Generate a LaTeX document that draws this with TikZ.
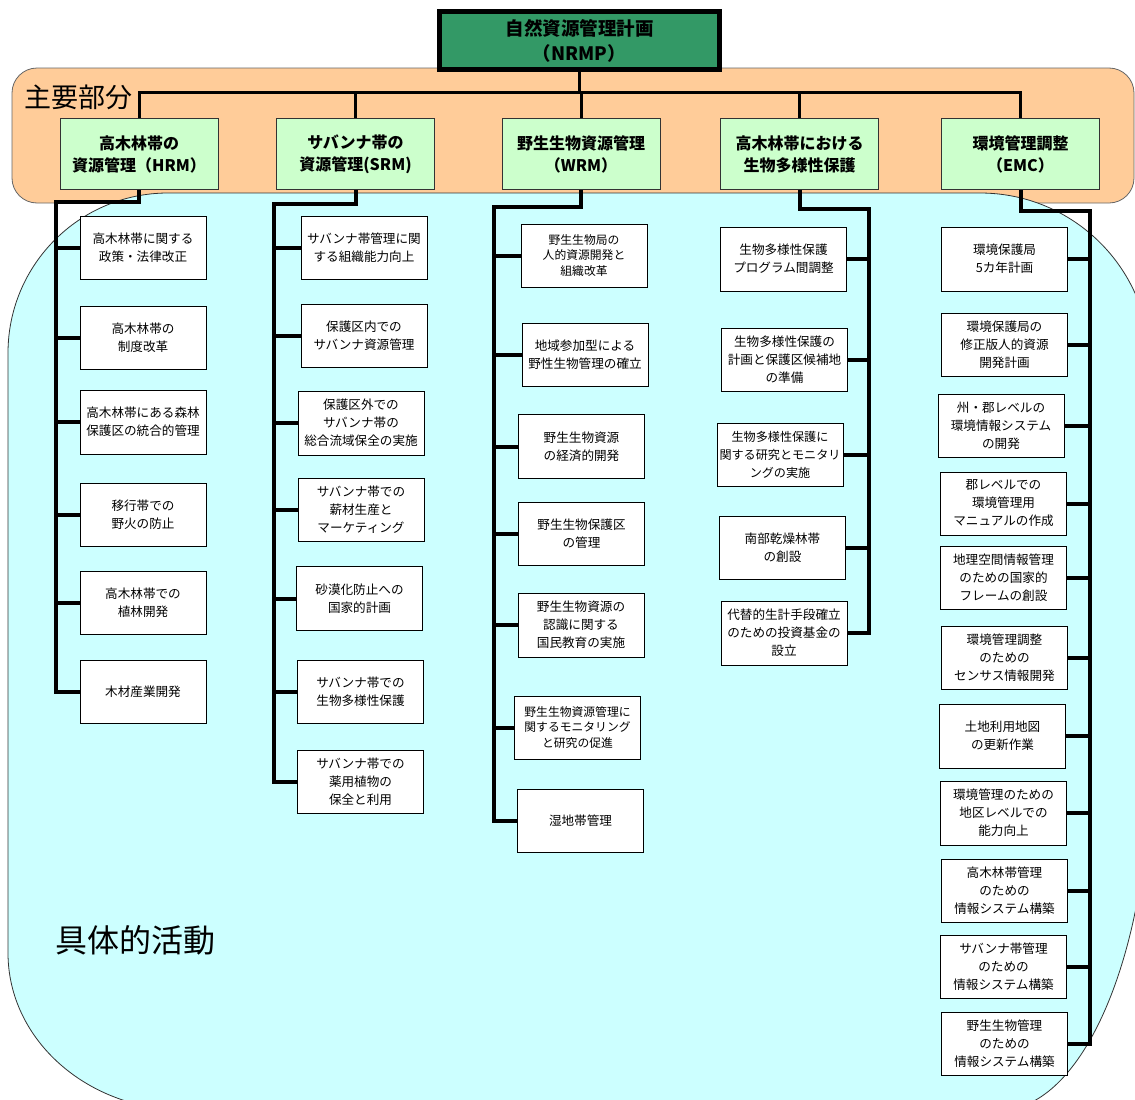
\documentclass[tikz,border=0pt]{standalone}
\usepackage{fontspec}
\setmainfont{Noto Sans CJK JP}
\definecolor{nrmpgreen}{HTML}{339966}
\definecolor{compgreen}{HTML}{CCFFCC}
\definecolor{peach}{HTML}{FFCC99}
\definecolor{cyanbg}{HTML}{CCFFFF}
\begin{document}
\begin{tikzpicture}[x=1pt,y=-1pt,
  act/.style={draw=black, line width=1pt, fill=white, align=center, inner sep=0pt,
    minimum width=126pt, minimum height=63pt, font=\fontsize{12.6}{18}\selectfont},
  actsmall/.style={act, font=\fontsize{11.8}{15.6}\selectfont},
  actnarrow/.style={act, font=\fontsize{12.1}{18}\selectfont},
  comp/.style={draw=black!80, line width=0.8pt, fill=compgreen, align=center, inner sep=0pt,
    minimum width=158pt, minimum height=71pt, font=\bfseries\fontsize{16}{22}\selectfont},
  topbox/.style={draw=black, line width=5pt, fill=nrmpgreen, align=center, inner sep=0pt,
    minimum width=280pt, minimum height=58pt, font=\bfseries\fontsize{18.5}{25}\selectfont},
  tree/.style={line width=4pt, line join=miter, draw=black},
  topline/.style={line width=3pt, line join=miter, draw=black},
  biglabel/.style={inner sep=0pt, anchor=center}
]
\useasboundingbox (0,0) rectangle (1135,1100);
\begin{scope}
\clip (0,0) rectangle (1135,1100);
% orange band
\draw[fill=peach, draw=black!60, line width=0.8pt, rounded corners=25pt] (12,68) rectangle (1134,203);
% cyan area
\draw[fill=cyanbg, draw=black!80, line width=0.8pt]
  (8,353) arc[start angle=180, end angle=270, radius=160]
  -- (980,193) arc[start angle=270, end angle=360, radius=170]
  -- (1150,760) arc[start angle=0, end angle=90, x radius=150, y radius=350]
  -- (185,1110) arc[start angle=90, end angle=180, x radius=177, y radius=157]
  -- cycle;
\end{scope}

\node[biglabel, font=\fontsize{27}{30}\selectfont] (lblmain) at (78,97) {主要部分};
\node[biglabel, font=\fontsize{32}{36}\selectfont] (lblact) at (135,940) {具体的活動};

% top node and components
\node[topbox] (nrmp) at (579.5,40.5) {自然資源管理計画\\（NRMP）};
\node[comp] (hrm) at (139,154) {高木林帯の\\資源管理（HRM）};
\node[comp] (srm) at (355.5,154) {サバンナ帯の\\資源管理(SRM)};
\node[comp] (wrm) at (581,154) {野生生物資源管理\\（WRM）};
\node[comp] (bio) at (799.5,154) {高木林帯における\\生物多様性保護};
\node[comp] (emc) at (1020.5,154) {環境管理調整\\（EMC）};

\coordinate (bar) at (0,92);
\draw[topline] (nrmp.south) -- (nrmp.south |- bar);
\draw[topline] (hrm.north) -- (hrm.north |- bar) -- (emc.north |- bar) -- (emc.north);
\draw[topline] (srm.north) -- (srm.north |- bar);
\draw[topline] (wrm.north) -- (wrm.north |- bar);
\draw[topline] (bio.north) -- (bio.north |- bar);

% HRM activities
\node[act] (h1) at (143,248) {高木林帯に関する\\政策・法律改正};
\node[act] (h2) at (143,337.5) {高木林帯の\\制度改革};
\node[act, minimum height=64pt] (h3) at (143,422) {高木林帯にある森林\\保護区の統合的管理};
\node[act] (h4) at (143,514.5) {移行帯での\\野火の防止};
\node[act] (h5) at (143,603) {高木林帯での\\植林開発};
\node[act] (h6) at (143,692) {木材産業開発};

% SRM activities
\node[act] (s1) at (364,248) {サバンナ帯管理に関\\する組織能力向上};
\node[act] (s2) at (364,335.5) {保護区内での\\サバンナ資源管理};
\node[act, minimum height=64pt] (s3) at (361,423) {保護区外での\\サバンナ帯の\\総合流域保全の実施};
\node[act] (s4) at (361,509.5) {サバンナ帯での\\薪材生産と\\マーケティング};
\node[act, minimum height=64pt] (s5) at (359.5,598.5) {砂漠化防止への\\国家的計画};
\node[act] (s6) at (360.5,692) {サバンナ帯での\\生物多様性保護};
\node[act] (s7) at (360.5,782) {サバンナ帯での\\薬用植物の\\保全と利用};

% WRM activities
\node[actsmall] (w1) at (584,255.5) {野生生物局の\\人的資源開発と\\組織改革};
\node[act] (w2) at (585,354.5) {地域参加型による\\野性生物管理の確立};
\node[act, minimum height=64pt] (w3) at (581.5,446.5) {野生生物資源\\の経済的開発};
\node[act] (w4) at (581.5,533.5) {野生生物保護区\\の管理};
\node[act, minimum height=64pt] (w5) at (581,625) {野生生物資源の\\認識に関する\\国民教育の実施};
\node[actsmall] (w6) at (577.5,727.5) {野生生物資源管理に\\関するモニタリング\\と研究の促進};
\node[act] (w7) at (580.5,820.5) {湿地帯管理};

% BIO activities
\node[act, minimum height=64pt] (b1) at (783.5,259) {生物多様性保護\\プログラム間調整};
\node[act] (b2) at (784.5,359.5) {生物多様性保護の\\計画と保護区候補地\\の準備};
\node[actnarrow] (b3) at (780,455) {生物多様性保護に\\関する研究とモニタリ\\ングの実施};
\node[act] (b4) at (782.5,548) {南部乾燥林帯\\の創設};
\node[act, minimum height=64pt] (b5) at (784,633) {代替的生計手段確立\\のための投資基金の\\設立};

% EMC activities
\node[act, minimum height=64pt] (e1) at (1004.5,259) {環境保護局\\5カ年計画};
\node[act] (e2) at (1004.5,344.5) {環境保護局の\\修正版人的資源\\開発計画};
\node[act] (e3) at (1001,425.5) {州・郡レベルの\\環境情報システム\\の開発};
\node[act] (e4) at (1003.5,503.5) {郡レベルでの\\環境管理用\\マニュアルの作成};
\node[act] (e5) at (1003.5,577.5) {地理空間情報管理\\のための国家的\\フレームの創設};
\node[act] (e6) at (1004.5,657.5) {環境管理調整\\のための\\センサス情報開発};
\node[act, minimum height=64pt] (e7) at (1002.5,736) {土地利用地図\\の更新作業};
\node[act, minimum height=64pt] (e8) at (1003.5,813) {環境管理のための\\地区レベルでの\\能力向上};
\node[act] (e9) at (1004.5,890.5) {高木林帯管理\\のための\\情報システム構築};
\node[act] (e10) at (1003.5,966.5) {サバンナ帯管理\\のための\\情報システム構築};
\node[act] (e11) at (1004.5,1044) {野生生物管理\\のための\\情報システム構築};

% trees
\coordinate (hj) at (56,202);
\draw[tree] (hrm.south) |- (hj) |- (h6.west);
\foreach \n in {h1,h2,h3,h4,h5} \draw[tree] (hj |- \n.west) -- (\n.west);

\coordinate (sj) at (274,204);
\draw[tree] (srm.south) |- (sj) |- (s7.west);
\foreach \n in {s1,s2,s3,s4,s5,s6} \draw[tree] (sj |- \n.west) -- (\n.west);

\coordinate (wj) at (494,207);
\draw[tree] (wrm.south) |- (wj) |- (w7.west);
\foreach \n in {w1,w2,w3,w4,w5,w6} \draw[tree] (wj |- \n.west) -- (\n.west);

\coordinate (bj) at (869,209);
\draw[tree] (bio.south) |- (bj) |- (b5.east);
\foreach \n in {b1,b2,b3,b4} \draw[tree] (bj |- \n.east) -- (\n.east);

\coordinate (ej) at (1090,211);
\draw[tree] (emc.south) |- (ej) |- (e11.east);
\foreach \n in {e1,e2,e3,e4,e5,e6,e7,e8,e9,e10} \draw[tree] (ej |- \n.east) -- (\n.east);
\end{tikzpicture}
\end{document}
